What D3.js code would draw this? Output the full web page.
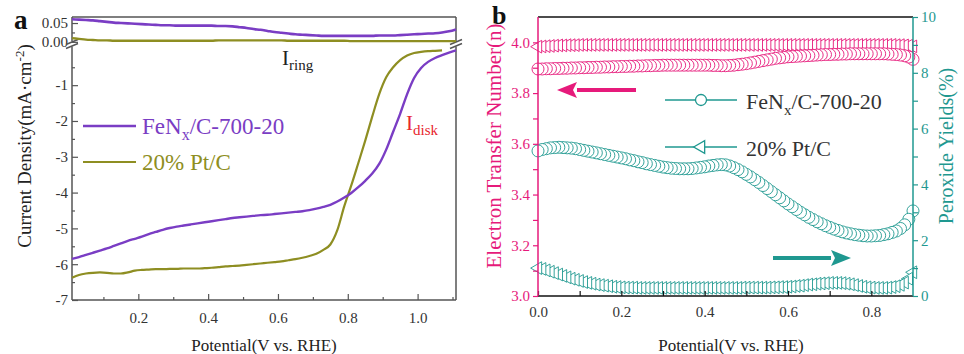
<!DOCTYPE html>
<html><head><meta charset="utf-8">
<script src="https://cdn.jsdelivr.net/npm/d3@7"></script>
<style>
html,body{margin:0;padding:0;background:#fff;}
svg{display:block;font-family:"Liberation Serif","Times New Roman",serif;}
</style></head>
<body><svg id="c" width="964" height="354"></svg>
<script>
// ---------- Panel a data (potential sweep, V vs RHE) ----------
const potA = d3.range(0, 56).map(i => +(0.01 + 0.02 * i).toFixed(2)); // 0.01 .. 1.11
const diskFeNx = [-5.85,-5.80,-5.74,-5.68,-5.62,-5.56,-5.49,-5.42,-5.35,-5.29,
  -5.23,-5.16,-5.10,-5.04,-4.99,-4.95,-4.92,-4.89,-4.86,-4.83,
  -4.80,-4.77,-4.74,-4.71,-4.69,-4.67,-4.65,-4.63,-4.62,-4.60,
  -4.58,-4.56,-4.54,-4.52,-4.49,-4.45,-4.40,-4.34,-4.25,-4.14,
  -4.01,-3.85,-3.67,-3.47,-3.20,-2.80,-2.30,-1.80,-1.25,-0.80,
  -0.52,-0.35,-0.24,-0.16,-0.09,-0.03];
const diskPtC = [-6.38,-6.30,-6.26,-6.24,-6.23,-6.24,-6.26,-6.26,-6.23,-6.18,
  -6.16,-6.15,-6.14,-6.14,-6.13,-6.13,-6.12,-6.12,-6.12,-6.11,
  -6.10,-6.08,-6.06,-6.05,-6.04,-6.02,-6.00,-5.98,-5.96,-5.94,
  -5.92,-5.89,-5.86,-5.82,-5.77,-5.71,-5.60,-5.45,-5.05,-4.38,
  -3.80,-3.18,-2.55,-1.88,-1.25,-0.78,-0.50,-0.30,-0.17,-0.10,
  -0.07,-0.05,-0.04,-0.03,null,null];
const ringFeNx = [0.060,0.059,0.058,0.057,0.055,0.053,0.051,0.050,0.049,0.048,
  0.047,0.046,0.045,0.044,0.044,0.043,0.043,0.043,0.043,0.043,
  0.043,0.042,0.042,0.041,0.039,0.037,0.034,0.032,0.029,0.026,
  0.024,0.022,0.020,0.019,0.018,0.017,0.016,0.016,0.016,0.016,
  0.016,0.016,0.016,0.016,0.017,0.017,0.017,0.018,0.019,0.020,
  0.021,0.022,0.023,0.025,0.028,0.033];
const ringPtC = [0.010,0.008,0.006,0.005,0.004,0.004,0.003,0.003,0.003,0.003,
  0.003,0.003,0.003,0.003,0.003,0.003,0.003,0.003,0.003,0.003,
  0.003,0.004,0.004,0.004,0.004,0.004,0.004,0.004,0.004,0.004,
  0.004,0.003,0.003,0.003,0.003,0.003,0.003,0.003,0.003,0.003,
  0.002,0.002,0.002,0.002,0.002,0.002,0.002,0.002,0.002,0.002,
  0.002,0.002,0.002,0.002,0.002,0.002];
const xTicksA = [0.2,0.4,0.6,0.8,1.0];
const yTicksDisk = [-7,-6,-5,-4,-3,-2,-1];
const yTicksRing = [0.00,0.05];

// ---------- Panel b data ----------
const potB = d3.range(0, 91).map(i => i / 100); // 0.00 .. 0.90
const nFeNx = [3.895,3.895,3.896,3.896,3.897,3.897,3.898,3.898,3.899,3.899,
  3.900,3.900,3.901,3.901,3.902,3.902,3.903,3.903,3.904,3.904,
  3.905,3.905,3.906,3.906,3.907,3.907,3.908,3.908,3.909,3.909,
  3.910,3.910,3.910,3.910,3.910,3.910,3.910,3.910,3.910,3.910,
  3.910,3.910,3.909,3.909,3.908,3.908,3.909,3.910,3.912,3.914,
  3.916,3.919,3.922,3.925,3.928,3.931,3.934,3.937,3.939,3.941,
  3.943,3.944,3.945,3.946,3.947,3.948,3.949,3.950,3.951,3.952,
  3.952,3.953,3.953,3.954,3.954,3.955,3.955,3.955,3.955,3.955,
  3.955,3.955,3.955,3.955,3.954,3.953,3.952,3.950,3.947,3.942,
  3.933];
const nPtC = [3.983,3.984,3.985,3.986,3.987,3.988,3.988,3.989,3.989,3.989,
  3.990,3.990,3.990,3.990,3.990,3.990,3.990,3.990,3.990,3.990,
  3.990,3.990,3.990,3.990,3.990,3.990,3.990,3.990,3.990,3.990,
  3.990,3.990,3.990,3.990,3.990,3.990,3.990,3.990,3.990,3.990,
  3.990,3.990,3.990,3.990,3.990,3.990,3.990,3.990,3.990,3.990,
  3.990,3.990,3.990,3.990,3.990,3.990,3.990,3.990,3.990,3.990,
  3.990,3.990,3.990,3.990,3.990,3.990,3.990,3.990,3.990,3.990,
  3.990,3.990,3.990,3.990,3.990,3.990,3.990,3.990,3.990,3.990,
  3.990,3.990,3.990,3.990,3.990,3.990,3.989,3.989,3.988,3.987,
  3.984];
const perFeNx = [5.20,5.25,5.28,5.31,5.32,5.33,5.32,5.31,5.30,5.28,
  5.25,5.22,5.19,5.16,5.13,5.10,5.07,5.04,5.01,4.98,
  4.95,4.92,4.88,4.85,4.81,4.78,4.74,4.71,4.68,4.65,
  4.62,4.60,4.58,4.57,4.56,4.56,4.56,4.57,4.59,4.61,
  4.63,4.66,4.68,4.70,4.71,4.70,4.66,4.60,4.53,4.45,
  4.36,4.27,4.17,4.07,3.96,3.85,3.74,3.63,3.52,3.41,
  3.30,3.20,3.10,3.00,2.91,2.82,2.74,2.66,2.59,2.52,
  2.46,2.40,2.35,2.30,2.26,2.23,2.20,2.18,2.16,2.15,
  2.15,2.16,2.17,2.20,2.23,2.28,2.33,2.42,2.55,2.75,
  3.05];
const perPtC = [1.00,0.97,0.92,0.87,0.82,0.77,0.72,0.67,0.62,0.58,
  0.54,0.50,0.47,0.44,0.41,0.39,0.37,0.35,0.33,0.32,
  0.31,0.30,0.30,0.30,0.29,0.29,0.29,0.29,0.29,0.29,
  0.29,0.29,0.29,0.29,0.29,0.29,0.29,0.29,0.29,0.29,
  0.29,0.29,0.29,0.29,0.29,0.29,0.29,0.29,0.29,0.30,
  0.30,0.30,0.30,0.30,0.30,0.30,0.31,0.31,0.32,0.32,
  0.33,0.34,0.36,0.37,0.39,0.41,0.42,0.44,0.45,0.46,
  0.47,0.47,0.47,0.46,0.44,0.42,0.39,0.36,0.33,0.31,
  0.30,0.29,0.29,0.29,0.30,0.32,0.35,0.40,0.48,0.62,
  0.85];
const xTicksB = [0.0,0.2,0.4,0.6,0.8];
const yTicksN = [3.0,3.2,3.4,3.6,3.8,4.0];
const yTicksP = [0,2,4,6,8,10];
const seriesNames = ["FeN", "x", "/C-700-20", "20% Pt/C"];

// ---------- styles ----------
const PURPLE = "#7a3dc4", OLIVE = "#8e8e22", PINK = "#e61a7b", TEAL = "#1f9890", AX = "#555";

const svg = d3.select("#c");
svg.append("rect").attr("width", 964).attr("height", 354).attr("fill", "#fff");

// ================= Panel a =================
const xA = d3.scaleLinear().domain([0.01, 1.11]).range([72, 456]);
const yDisk = d3.scaleLinear().domain([-7, 0.08]).range([300, 46.5]);
const yRing = d3.scaleLinear().domain([-0.011, 0.066]).range([46, 17]);
const gA = svg.append("g");

function styleAxis(g, color, fs) {
  g.select(".domain").remove();
  g.selectAll("line").attr("stroke", color).attr("stroke-width", 1.2);
  g.selectAll("text").attr("fill", "#333").attr("font-size", fs).attr("font-family", "Liberation Serif");
}
gA.append("g").attr("transform", "translate(0,300)")
  .call(d3.axisBottom(xA).tickValues(xTicksA).tickSize(-6).tickPadding(12).tickFormat(d3.format(".1f")))
  .call(g => styleAxis(g, AX, 15));
gA.append("g").attr("transform", "translate(0,300)")
  .call(d3.axisBottom(xA).tickValues([0.1,0.3,0.5,0.7,0.9,1.1]).tickSize(-3).tickFormat(""))
  .call(g => styleAxis(g, AX, 15));
gA.append("g").attr("transform", "translate(72,0)")
  .call(d3.axisLeft(yDisk).tickValues(yTicksDisk).tickSize(-6).tickPadding(4).tickFormat(d => String(d)))
  .call(g => styleAxis(g, AX, 15));
gA.append("g").attr("transform", "translate(72,0)")
  .call(d3.axisLeft(yDisk).tickValues([-6.5,-5.5,-4.5,-3.5,-2.5,-1.5,-0.5]).tickSize(-3).tickFormat(""))
  .call(g => styleAxis(g, AX, 15));
gA.append("g").attr("transform", "translate(72,0)")
  .call(d3.axisLeft(yRing).tickValues(yTicksRing).tickSize(-6).tickPadding(4).tickFormat(d3.format(".2f")))
  .call(g => styleAxis(g, AX, 15));
gA.append("g").attr("transform", "translate(72,0)")
  .call(d3.axisLeft(yRing).tickValues([0.025]).tickSize(-3).tickFormat(""))
  .call(g => styleAxis(g, AX, 15));

const fr = gA.append("g").attr("stroke", AX).attr("stroke-width", 1.5).attr("fill", "none");
fr.append("line").attr("x1", 72).attr("x2", 456).attr("y1", 17).attr("y2", 17);
fr.append("line").attr("x1", 72).attr("x2", 456).attr("y1", 300).attr("y2", 300);
[72, 456].forEach(x => {
  fr.append("line").attr("x1", x).attr("x2", x).attr("y1", 17).attr("y2", 41.5);
  fr.append("line").attr("x1", x).attr("x2", x).attr("y1", 46.5).attr("y2", 300);
  fr.append("line").attr("x1", x - 6).attr("x2", x + 6).attr("y1", 44.5).attr("y2", 39.5);
  fr.append("line").attr("x1", x - 6).attr("x2", x + 6).attr("y1", 48.5).attr("y2", 43.5);
});

const lineDisk = d3.line().defined(d => d[1] != null).x(d => xA(d[0])).y(d => yDisk(d[1])).curve(d3.curveMonotoneX);
const lineRing = d3.line().x(d => xA(d[0])).y(d => yRing(d[1])).curve(d3.curveMonotoneX);
gA.append("path").attr("d", lineRing(potA.map((p, i) => [p, ringPtC[i]]))).attr("fill", "none").attr("stroke", OLIVE).attr("stroke-width", 2.4);
gA.append("path").attr("d", lineRing(potA.map((p, i) => [p, ringFeNx[i]]))).attr("fill", "none").attr("stroke", PURPLE).attr("stroke-width", 2.6);
gA.append("path").attr("d", lineDisk(potA.map((p, i) => [p, diskPtC[i]]))).attr("fill", "none").attr("stroke", OLIVE).attr("stroke-width", 2.2);
gA.append("path").attr("d", lineDisk(potA.map((p, i) => [p, diskFeNx[i]]))).attr("fill", "none").attr("stroke", PURPLE).attr("stroke-width", 2.4);

gA.append("line").attr("x1", 83).attr("x2", 136).attr("y1", 126).attr("y2", 126).attr("stroke", PURPLE).attr("stroke-width", 2.4);
const la1 = gA.append("text").attr("x", 142).attr("y", 134).attr("font-size", 23).attr("fill", PURPLE);
la1.append("tspan").text(seriesNames[0]);
la1.append("tspan").attr("font-size", 16).attr("dy", 6).text(seriesNames[1]);
la1.append("tspan").attr("dy", -6).text(seriesNames[2]);
gA.append("line").attr("x1", 83).attr("x2", 136).attr("y1", 162).attr("y2", 162).attr("stroke", OLIVE).attr("stroke-width", 2.2);
gA.append("text").attr("x", 142).attr("y", 170).attr("font-size", 23).attr("fill", OLIVE).text(seriesNames[3]);

const ir = gA.append("text").attr("x", 282).attr("y", 65).attr("font-size", 21).attr("fill", "#222");
ir.append("tspan").text("I");
ir.append("tspan").attr("font-size", 15).attr("dy", 5).text("ring");
const id = gA.append("text").attr("x", 406).attr("y", 130).attr("font-size", 21).attr("fill", "#e8262e");
id.append("tspan").text("I");
id.append("tspan").attr("font-size", 15).attr("dy", 5).text("disk");

gA.append("text").attr("x", 264).attr("y", 351).attr("text-anchor", "middle").attr("font-size", 17).attr("fill", "#222").text("Potential(V vs. RHE)");
const yt = gA.append("text").attr("transform", "translate(31,146) rotate(-90)").attr("text-anchor", "middle").attr("font-size", 19).attr("fill", "#222");
yt.append("tspan").text("Current Density(mA·cm");
yt.append("tspan").attr("font-size", 13).attr("dy", -7).text("-2");
yt.append("tspan").attr("dy", 7).text(")");
gA.append("text").attr("x", 14).attr("y", 29).attr("font-size", 27).attr("font-weight", "bold").attr("fill", "#111").text("a");

// ================= Panel b =================
const xB = d3.scaleLinear().domain([0, 0.9]).range([538, 913]);
const yN = d3.scaleLinear().domain([3.0, 4.1]).range([296, 17]);
const yP = d3.scaleLinear().domain([0, 10]).range([296, 17]);
const gB = svg.append("g");

const tri = d3.symbol().type(d3.symbolTriangle).size(70);
// markers drawn from right to left so the first point sits on top
function drawCircles(vals, yS, color) {
  const pts = potB.map((p, i) => [p, vals[i]]).reverse();
  gB.append("g").selectAll("circle").data(pts).join("circle")
    .attr("cx", d => xB(d[0])).attr("cy", d => yS(d[1])).attr("r", 6)
    .attr("fill", "#fff").attr("stroke", color).attr("stroke-width", 0.9);
}
function drawTris(vals, yS, color) {
  const pts = potB.map((p, i) => [p, vals[i]]).reverse();
  gB.append("g").selectAll("path").data(pts).join("path")
    .attr("d", tri)
    .attr("transform", d => `translate(${xB(d[0])},${yS(d[1])}) rotate(-90)`)
    .attr("fill", "#fff").attr("stroke", color).attr("stroke-width", 0.9);
}
drawTris(perPtC, yP, TEAL);
drawCircles(perFeNx, yP, TEAL);
drawTris(nPtC, yN, PINK);
drawCircles(nFeNx, yN, PINK);

gB.append("g").attr("transform", "translate(0,296)")
  .call(d3.axisBottom(xB).tickValues(xTicksB).tickSize(-5).tickPadding(10).tickFormat(d3.format(".1f")))
  .call(g => styleAxis(g, "#111", 15));
gB.append("g").attr("transform", "translate(0,296)")
  .call(d3.axisBottom(xB).tickValues([0.1,0.3,0.5,0.7]).tickSize(-5).tickFormat(""))
  .call(g => styleAxis(g, "#111", 15));
gB.append("g").attr("transform", "translate(538,0)")
  .call(d3.axisLeft(yN).tickValues(yTicksN).tickSize(5).tickPadding(3).tickFormat(d3.format(".1f")))
  .call(g => { styleAxis(g, PINK, 15); g.selectAll("text").attr("fill", PINK); });
gB.append("g").attr("transform", "translate(538,0)")
  .call(d3.axisLeft(yN).tickValues([3.1,3.3,3.5,3.7,3.9]).tickSize(5).tickFormat(""))
  .call(g => styleAxis(g, PINK, 15));
gB.append("g").attr("transform", "translate(913,0)")
  .call(d3.axisRight(yP).tickValues(yTicksP).tickSize(5).tickPadding(3).tickFormat(d3.format("d")))
  .call(g => { styleAxis(g, TEAL, 15); g.selectAll("text").attr("fill", TEAL); });
gB.append("g").attr("transform", "translate(913,0)")
  .call(d3.axisRight(yP).tickValues([1,3,5,7,9]).tickSize(5).tickFormat(""))
  .call(g => styleAxis(g, TEAL, 15));
gB.append("line").attr("x1", 538).attr("x2", 913).attr("y1", 17).attr("y2", 17).attr("stroke", "#111").attr("stroke-width", 1.5);
gB.append("line").attr("x1", 538).attr("x2", 913).attr("y1", 296).attr("y2", 296).attr("stroke", "#111").attr("stroke-width", 1.5);
gB.append("line").attr("x1", 538).attr("x2", 538).attr("y1", 17).attr("y2", 296).attr("stroke", PINK).attr("stroke-width", 1.5);
gB.append("line").attr("x1", 913).attr("x2", 913).attr("y1", 17).attr("y2", 296).attr("stroke", TEAL).attr("stroke-width", 1.5);

function arrow(x1, x2, y, color) {
  const dir = Math.sign(x2 - x1);
  const hx = x2 - dir * 20;
  gB.append("line").attr("x1", x1).attr("x2", hx).attr("y1", y).attr("y2", y).attr("stroke", color).attr("stroke-width", 4);
  gB.append("path").attr("d", `M${x2},${y} L${hx},${y - 8} L${hx + dir * 4},${y} L${hx},${y + 8} Z`).attr("fill", color);
}
arrow(636, 557, 90, PINK);
arrow(773, 851, 258, TEAL);

gB.append("line").attr("x1", 665).attr("x2", 737).attr("y1", 100).attr("y2", 100).attr("stroke", TEAL).attr("stroke-width", 1.5);
gB.append("circle").attr("cx", 701).attr("cy", 100).attr("r", 5.5).attr("fill", "#fff").attr("stroke", TEAL).attr("stroke-width", 1.3);
const lb1 = gB.append("text").attr("x", 746).attr("y", 109).attr("font-size", 22).attr("fill", "#333");
lb1.append("tspan").text(seriesNames[0]);
lb1.append("tspan").attr("font-size", 15).attr("dy", 6).text(seriesNames[1]);
lb1.append("tspan").attr("dy", -6).text(seriesNames[2]);
gB.append("line").attr("x1", 665).attr("x2", 737).attr("y1", 147).attr("y2", 147).attr("stroke", TEAL).attr("stroke-width", 1.5);
gB.append("path").attr("d", tri).attr("transform", "translate(701,147) rotate(-90)").attr("fill", "#fff").attr("stroke", TEAL).attr("stroke-width", 1.3);
gB.append("text").attr("x", 746).attr("y", 156).attr("font-size", 22).attr("fill", "#333").text(seriesNames[3]);

gB.append("text").attr("x", 731).attr("y", 351).attr("text-anchor", "middle").attr("font-size", 17).attr("fill", "#222").text("Potential(V vs. RHE)");
gB.append("text").attr("transform", "translate(501,146) rotate(-90)").attr("text-anchor", "middle").attr("font-size", 21).attr("fill", PINK).text("Electron Transfer Number(n)");
gB.append("text").attr("transform", "translate(953,146) rotate(-90)").attr("text-anchor", "middle").attr("font-size", 20).attr("fill", TEAL).text("Peroxide Yields(%)");
gB.append("text").attr("x", 492).attr("y", 24).attr("font-size", 26).attr("font-weight", "bold").attr("fill", "#111").text("b");
</script>
</body></html>
